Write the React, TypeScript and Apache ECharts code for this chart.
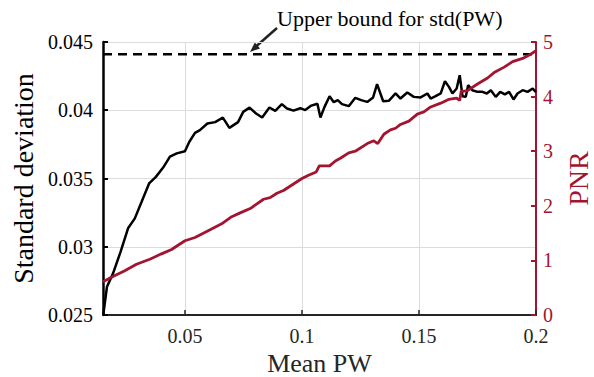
import React, { useEffect, useRef } from "react";
import * as echarts from "echarts";

// Mean PW (x) and standard deviation (black line, left axis)
const stdX = [
  0.0151, 0.0167, 0.0193, 0.0225, 0.0257, 0.0286, 0.0315, 0.0347, 0.0376, 0.0407,
  0.0436, 0.0465, 0.05, 0.0519, 0.0543, 0.0564, 0.0596, 0.0629, 0.0662, 0.069,
  0.0727, 0.0749, 0.0776, 0.0804, 0.083, 0.0861, 0.0886, 0.0914, 0.0936, 0.0964,
  0.0993, 0.1014, 0.104, 0.1066, 0.1079, 0.1096, 0.1118, 0.1136, 0.1153, 0.1171,
  0.12, 0.1228, 0.1253, 0.1279, 0.1304, 0.1321, 0.1347, 0.1371, 0.14, 0.1421,
  0.145, 0.1478, 0.1507, 0.1536, 0.155, 0.1571, 0.1593, 0.1611, 0.1628, 0.1643,
  0.1661, 0.1674, 0.1686, 0.17, 0.171, 0.1728, 0.175, 0.1771, 0.179, 0.1807,
  0.1828, 0.1847, 0.1867, 0.1885, 0.1904, 0.1921, 0.1943, 0.1964, 0.1986, 0.2,
];
const stdY = [
  0.025, 0.02707, 0.02805, 0.02963, 0.03135, 0.03208, 0.03329, 0.03464, 0.03512, 0.0358,
  0.0366, 0.03684, 0.037, 0.03769, 0.03834, 0.03854, 0.03903, 0.03913, 0.03946, 0.03871,
  0.03913, 0.03988, 0.04019, 0.03976, 0.03947, 0.0402, 0.03996, 0.04045, 0.04013, 0.03997,
  0.04015, 0.04001, 0.04034, 0.04048, 0.03947, 0.04023, 0.04103, 0.04059, 0.04074, 0.04045,
  0.0403, 0.04091, 0.04074, 0.04061, 0.04094, 0.04191, 0.04066, 0.04069, 0.04123, 0.04086,
  0.0413, 0.04098, 0.04094, 0.04123, 0.04086, 0.04103, 0.04123, 0.04213, 0.04171, 0.04123,
  0.04159, 0.04257, 0.04103, 0.04098, 0.04184, 0.04147, 0.04135, 0.04135, 0.04123, 0.04147,
  0.04098, 0.04135, 0.04116, 0.04135, 0.04079, 0.04123, 0.04147, 0.04135, 0.04159, 0.04132,
];

// Mean PW (x) and PNR (red line, right axis)
const pnrX = [
  0.015, 0.0186, 0.0243, 0.0293, 0.035, 0.04, 0.0443, 0.05, 0.0543, 0.0593,
  0.0657, 0.07, 0.0736, 0.0779, 0.0836, 0.0864, 0.0893, 0.0921, 0.0964, 0.1,
  0.1028, 0.1061, 0.1074, 0.1118, 0.1143, 0.1164, 0.12, 0.1228, 0.1279, 0.1307,
  0.1324, 0.135, 0.1378, 0.14, 0.1421, 0.1457, 0.1493, 0.1521, 0.155, 0.1593,
  0.1628, 0.1661, 0.1674, 0.168, 0.1707, 0.175, 0.1793, 0.1821, 0.1864, 0.19,
  0.1943, 0.1971, 0.2,
];
const pnrY = [
  0.61, 0.69, 0.81, 0.93, 1.02, 1.12, 1.2, 1.36, 1.42, 1.53,
  1.67, 1.8, 1.87, 1.95, 2.12, 2.15, 2.23, 2.28, 2.4, 2.5,
  2.56, 2.62, 2.73, 2.73, 2.82, 2.87, 2.97, 3.0, 3.14, 3.19,
  3.14, 3.31, 3.39, 3.42, 3.49, 3.55, 3.68, 3.72, 3.81, 3.88,
  3.95, 3.97, 3.93, 4.09, 4.11, 4.23, 4.34, 4.44, 4.54, 4.64,
  4.7, 4.76, 4.84,
];

const upperBound = 0.0441;
const xRange = [0.015, 0.2];
const leftTicks = [0.025, 0.045, 0.005];
const rightTicks = [0, 5, 1];

const FONT = "'Liberation Serif', 'Times New Roman', serif";
const RED = "#A2142F";
const DARK = "#262626";

export default function App() {
  const ref = useRef<HTMLDivElement>(null);
  useEffect(() => {
    if (!ref.current) return;
    const chart = echarts.init(ref.current, undefined, { renderer: "svg" });
    const blackData = stdX.map((x, i) => [x, stdY[i]]);
    const redData = pnrX.map((x, i) => [x, pnrY[i]]);
    const tickLabel = (color: string, margin: number) => ({
      fontSize: 20,
      color,
      fontFamily: FONT,
      fontWeight: "normal",
      margin,
    });
    chart.setOption({
      animation: false,
      backgroundColor: "#fff",
      textStyle: { fontFamily: FONT },
      grid: { left: 103, right: 58, top: 42, bottom: 62, outerBoundsMode: "none" },
      xAxis: {
        type: "value",
        min: xRange[0],
        max: xRange[1],
        splitNumber: 4,
        name: "Mean PW",
        nameLocation: "middle",
        nameGap: 30,
        nameTextStyle: { fontSize: 26, lineHeight: 26, color: DARK, fontFamily: FONT },
        axisLine: { show: true, lineStyle: { color: DARK, width: 2 } },
        axisTick: { show: true, inside: true, length: 5, lineStyle: { color: DARK, width: 1.5 } },
        axisLabel: { showMinLabel: false, ...tickLabel(DARK, 11) },
        splitLine: { show: true, lineStyle: { color: "#dcdcdc", width: 1 } },
      },
      yAxis: [
        {
          type: "value",
          min: leftTicks[0],
          max: leftTicks[1],
          interval: leftTicks[2],
          position: "left",
          name: "Standard deviation",
          nameLocation: "middle",
          nameRotate: 90,
          nameGap: 60,
          nameTextStyle: { fontSize: 28, color: "#000", fontFamily: FONT },
          axisLine: { show: true, onZero: false, lineStyle: { color: "#000", width: 2.5 } },
          axisTick: { show: true, inside: true, length: 5, lineStyle: { color: "#000", width: 2 } },
          axisLabel: tickLabel("#000", 10),
          splitLine: { show: true, lineStyle: { color: "#dcdcdc", width: 1 } },
        },
        {
          type: "value",
          min: rightTicks[0],
          max: rightTicks[1],
          interval: rightTicks[2],
          position: "right",
          name: "PNR",
          nameLocation: "middle",
          nameRotate: 90,
          nameGap: 28,
          nameTextStyle: { fontSize: 28, color: RED, fontFamily: FONT },
          axisLine: { show: true, onZero: false, lineStyle: { color: RED, width: 2 } },
          axisTick: { show: true, inside: true, length: 5, lineStyle: { color: RED, width: 2 } },
          axisLabel: tickLabel(RED, 7),
          splitLine: { show: false },
        },
      ],
      series: [
        {
          type: "line",
          yAxisIndex: 0,
          data: [[xRange[0], upperBound], [xRange[1], upperBound]],
          showSymbol: false,
          lineStyle: { color: "#000", width: 2.5, type: [9, 6] },
          z: 3,
        },
        {
          type: "line",
          yAxisIndex: 0,
          data: blackData,
          showSymbol: false,
          lineStyle: { color: "#000", width: 2.5 },
          z: 3,
        },
        {
          type: "line",
          yAxisIndex: 1,
          data: redData,
          showSymbol: false,
          lineStyle: { color: RED, width: 2.8 },
          z: 4,
        },
      ],
      graphic: [
        {
          type: "text",
          left: 277,
          top: 7,
          style: { text: "Upper bound for std(PW)", fontSize: 22, fontFamily: FONT, fill: "#000" },
        },
        {
          type: "line",
          shape: { x1: 277, y1: 28, x2: 256, y2: 46.5 },
          style: { stroke: "#222", lineWidth: 2.5 },
        },
        {
          type: "polygon",
          shape: { points: [[250, 52], [260.1, 48.4], [254.8, 42.4]] },
          style: { fill: "#222" },
        },
      ],
    });
    return () => chart.dispose();
  }, []);
  return (
    <div
      ref={ref}
      style={{ position: "absolute", left: 0, top: 0, width: 594, height: 377 }}
    />
  );
}
